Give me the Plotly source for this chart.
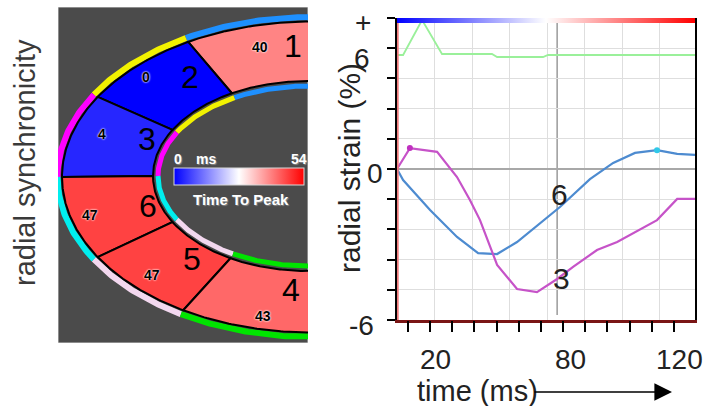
import numpy as np
import plotly.graph_objects as go
from plotly.colors import sample_colorscale

W, H = 706, 406

# ------------------------------------------------------------------ data
segment_ids = [1, 2, 3, 6, 5, 4]
time_to_peak_ms = [40, 0, 4, 47, 47, 43]
ttp_min_ms, ttp_max_ms = 0, 54
segment_ring_colors = ["#1e90ff", "#f2f200", "#ff00ff", "#00eeee", "#f3d8ef", "#00e400"]

seg3_time_ms = [0, 5.5, 17.1, 25.6, 31.1, 35.4, 42.7, 51.2, 59.7, 68.3, 75.1, 85.3, 93.9, 100.7, 110.9, 119.5, 127.1]
seg3_strain = [0, 0.83, 0.68, -0.32, -1.23, -2.03, -3.81, -4.77, -4.89, -4.37, -3.89, -3.22, -2.90, -2.54, -2.03, -1.19, -1.19]

seg6_time_ms = [0, 2.6, 14.1, 25.6, 34.6, 42.7, 51.2, 61.0, 69.5, 82.3, 92.2, 101.5, 110.9, 119.5, 127.1]
seg6_strain = [0, -0.44, -1.63, -2.70, -3.34, -3.38, -2.90, -2.15, -1.51, -0.40, 0.24, 0.64, 0.75, 0.60, 0.56]

seg4_time_ms = [0, 2.6, 10.7, 19.2, 40.5, 42.7, 62.3, 64.4, 127.1]
seg4_strain = [4.53, 4.53, 5.92, 4.57, 4.57, 4.45, 4.45, 4.53, 4.53]

cursor_time_ms = 68.3
x_tick_labels = ["20", "80", "120"]
y_tick_labels = ["+", "6", "0", "-6"]

# ------------------------------------------------------------------ layout constants
FONT = "Liberation Sans, Arial, Helvetica, sans-serif"
NARROW = "Liberation Sans Narrow, Arial Narrow, Liberation Sans, sans-serif"
CSCALE = [[0, "rgb(0,0,255)"], [0.5, "rgb(255,255,255)"], [1, "rgb(255,0,0)"]]
TIME_RANGE = [0, 127.1]
STRAIN_RANGE = [-6, 6]
x_label_pos = [16.6, 74.2, 120.7]
y_label_px = [(363, 23), (362, 59), (375, 173), (362, 325)]
curve_label_pos = {"6": (69.5, -1.0), "3": (70.0, -4.37)}

# left panel (pixel-like coordinates)
PANEL = (58, 7, 308, 343)
OUT = dict(cx=312, cy=177, a=250, b=155.5)
INN = dict(cx=308, cy=176, a=155, b=95)
outer_bounds = [95, 60.3, 31, 0, -31, -59, -95]
inner_bounds = [95, 60.6, 29, 0, -29, -60, -95]
value_label_px = [(260, 47), (146, 77), (102, 134), (90, 215), (152, 275), (263, 316)]
number_label_px = [(293, 46), (190, 77), (147, 139), (148, 206), (192, 259), (291, 290)]


def ell(e, t0, t1, d=0.0, n=60):
    t = np.radians(np.linspace(t0, t1, n))
    return e["cx"] - (e["a"] + d) * np.cos(t), e["cy"] - (e["b"] + d) * np.sin(t)


def pp(x, y):
    return x / W, 1 - y / H


fig = go.Figure()

seg_colors = sample_colorscale(CSCALE, [(v - ttp_min_ms) / (ttp_max_ms - ttp_min_ms) for v in time_to_peak_ms])

# ring strips
for i, col in enumerate(segment_ring_colors):
    xo, yo = ell(OUT, outer_bounds[i], outer_bounds[i + 1], d=4.5)
    fig.add_trace(go.Scatter(x=xo, y=yo, mode="lines", line=dict(color=col, width=6),
                             xaxis="x3", yaxis="y3", hoverinfo="skip", showlegend=False))
    xi, yi = ell(INN, inner_bounds[i], inner_bounds[i + 1], d=-5)
    fig.add_trace(go.Scatter(x=xi, y=yi, mode="lines", line=dict(color=col, width=5),
                             xaxis="x3", yaxis="y3", hoverinfo="skip", showlegend=False))

# segments
for i, col in enumerate(seg_colors):
    xo, yo = ell(OUT, outer_bounds[i], outer_bounds[i + 1])
    xi, yi = ell(INN, inner_bounds[i + 1], inner_bounds[i])
    xs = np.concatenate([xo, xi, xo[:1]])
    ys = np.concatenate([yo, yi, yo[:1]])
    fig.add_trace(go.Scatter(x=xs, y=ys, mode="lines", fill="toself", fillcolor=col,
                             line=dict(color="black", width=2),
                             xaxis="x3", yaxis="y3", hoverinfo="skip", showlegend=False))

# colorbar (Time To Peak)
fig.add_trace(go.Scatter(
    x=[p[0] for p in value_label_px], y=[p[1] for p in value_label_px], mode="markers",
    xaxis="x3", yaxis="y3", hoverinfo="skip", showlegend=False,
    marker=dict(size=1, opacity=0, color=time_to_peak_ms, colorscale=CSCALE,
                cmin=ttp_min_ms, cmax=ttp_max_ms, showscale=True,
                colorbar=dict(orientation="h", xref="container", yref="container",
                              x=174 / W, xanchor="left", y=1 - 168 / H, yanchor="top",
                              len=130, lenmode="pixels", thickness=17, xpad=0, ypad=0,
                              outlinewidth=1, outlinecolor="#d8d8d8",
                              showticklabels=False, ticks=""))))

# top gradient bar of strain plot
fig.add_trace(go.Scatter(
    x=seg6_time_ms[:2], y=seg6_strain[:2], mode="markers", xaxis="x", yaxis="y",
    hoverinfo="skip", showlegend=False,
    marker=dict(size=1, opacity=0, color=[ttp_min_ms, ttp_max_ms], colorscale=CSCALE,
                cmin=ttp_min_ms, cmax=ttp_max_ms, showscale=True,
                colorbar=dict(orientation="h", xref="container", yref="container",
                              x=397 / W, xanchor="left", y=1 - 18 / H, yanchor="top",
                              len=298, lenmode="pixels", thickness=5, xpad=0, ypad=0,
                              outlinewidth=0, showticklabels=False, ticks=""))))

# strain curves
fig.add_trace(go.Scatter(x=seg4_time_ms, y=seg4_strain, mode="lines", xaxis="x2", yaxis="y",
                         line=dict(color="#9af09a", width=1.8), hoverinfo="skip", showlegend=False))
fig.add_trace(go.Scatter(x=seg6_time_ms, y=seg6_strain, mode="lines", xaxis="x", yaxis="y",
                         line=dict(color="#4d8bd0", width=2.2), hoverinfo="skip", showlegend=False))
fig.add_trace(go.Scatter(x=seg3_time_ms, y=seg3_strain, mode="lines", xaxis="x", yaxis="y",
                         line=dict(color="#c653c8", width=2.2), hoverinfo="skip", showlegend=False))
k3 = int(np.argmax(seg3_strain))
k6 = int(np.argmax(seg6_strain))
fig.add_trace(go.Scatter(x=[seg3_time_ms[k3]], y=[seg3_strain[k3]], mode="markers", xaxis="x", yaxis="y",
                         marker=dict(color="#c030c0", size=6), hoverinfo="skip", showlegend=False))
fig.add_trace(go.Scatter(x=[seg6_time_ms[k6]], y=[seg6_strain[k6]], mode="markers", xaxis="x", yaxis="y",
                         marker=dict(color="#30c8e8", size=6), hoverinfo="skip", showlegend=False))

shapes = [
    dict(type="rect", xref="x3", yref="y3", x0=PANEL[0], y0=PANEL[1], x1=PANEL[2], y1=PANEL[3],
         fillcolor="#4b4b4b", line=dict(color="#cfcfcf", width=1), layer="below"),
    dict(type="line", xref="x", yref="y", x0=cursor_time_ms, x1=cursor_time_ms, y0=-5.8, y1=6,
         line=dict(color="#9a9a9a", width=1.5), layer="below"),
    dict(type="line", xref="x", yref="y", x0=0.3, x1=0.3, y0=-6, y1=6,
         line=dict(color="#f07a7a", width=2), layer="above"),
]

ann = []


def text(x, y, t, size, color="#222222", family=FONT, xref="paper", yref="paper", angle=0,
         xanchor="center", shadow=None):
    f = dict(family=family, size=size, color=color)
    if shadow:
        f["shadow"] = shadow
    ann.append(dict(x=x, y=y, xref=xref, yref=yref, text=t, showarrow=False, textangle=angle,
                    xanchor=xanchor, yanchor="middle", borderpad=0, font=f))


# left title
text(*pp(25, 163), "radial synchronicity", 29, color="#3a3a3a", angle=-90)
# value labels
for v, (px_, py_) in zip(time_to_peak_ms, value_label_px):
    text(px_, py_, f"<b>{v}</b>", 14, color="black", family=NARROW, xref="x3", yref="y3",
         shadow="0px 0px 2px #ffffff, 0px 0px 2px #ffffff")
for s, (px_, py_) in zip(segment_ids, number_label_px):
    text(px_, py_, str(s), 32, color="black", xref="x3", yref="y3")
# colorbar texts
for txt, (px_, py_) in [("0", (178, 159)), ("ms", (206, 159)), ("54", (299, 159))]:
    text(px_, py_, f"<b>{txt}</b>", 14, color="white", xref="x3", yref="y3",
         shadow="1px 1px 1px #888888")
text(241, 199, "<b>Time To Peak</b>", 15, color="white", xref="x3", yref="y3",
     shadow="1px 1px 1px #888888")

# right panel texts
text(*pp(350, 168), "radial strain (%)", 30, angle=-90)
for txt, (px_, py_) in zip(y_tick_labels, y_label_px):
    text(*pp(px_, py_), txt, 28)
for txt, xv in zip(x_tick_labels, x_label_pos):
    text(xv, 1 - 359 / H, txt, 28, xref="x")
for txt, (xv, yv) in curve_label_pos.items():
    text(xv, yv, txt, 30, xref="x", yref="y")
text(*pp(477, 391), "time (ms)", 29)
x1, y1 = pp(672, 392)
ann.append(dict(x=x1, y=y1, ax=-(672 - 533), ay=0, xref="paper", yref="paper", axref="pixel", ayref="pixel",
                text="", showarrow=True, arrowhead=2, arrowsize=2.2, arrowwidth=1.6, arrowcolor="black"))

fig.update_layout(
    width=W, height=H, margin=dict(l=0, r=0, t=0, b=0, autoexpand=False),
    paper_bgcolor="white", plot_bgcolor="rgba(0,0,0,0)",
    shapes=shapes, annotations=ann, showlegend=False,
    xaxis=dict(domain=[397 / W, 695 / W], range=TIME_RANGE, anchor="y",
               showgrid=True, gridcolor="#dedede", gridwidth=1.2, tick0=0, dtick=16,
               ticks="", showticklabels=False, zeroline=False,
               showline=True, linecolor="#7a1515", linewidth=3),
    xaxis2=dict(overlaying="x", anchor="y", range=TIME_RANGE, showgrid=False, zeroline=False,
                ticks="outside", ticklen=11, tickwidth=2, tickcolor="black",
                tick0=4.7, dtick=9.45, showticklabels=False, showline=False),
    yaxis=dict(domain=[1 - 320 / H, 1 - 18 / H], range=STRAIN_RANGE, anchor="x",
               showgrid=True, gridcolor="#dedede", gridwidth=1.2, tick0=0, dtick=1.2,
               ticks="outside", ticklen=8, tickwidth=2, tickcolor="black",
               showticklabels=False, zeroline=True, zerolinecolor="#a8a8a8", zerolinewidth=2,
               showline=True, linecolor="black", linewidth=2, mirror=True),
    xaxis3=dict(domain=[PANEL[0] / W, PANEL[2] / W], range=[PANEL[0], PANEL[2]], anchor="y3",
                visible=False),
    yaxis3=dict(domain=[1 - PANEL[3] / H, 1 - PANEL[1] / H], range=[PANEL[3], PANEL[1]], anchor="x3",
                visible=False),
)

fig.write_html("out.html", config={"displayModeBar": False})
